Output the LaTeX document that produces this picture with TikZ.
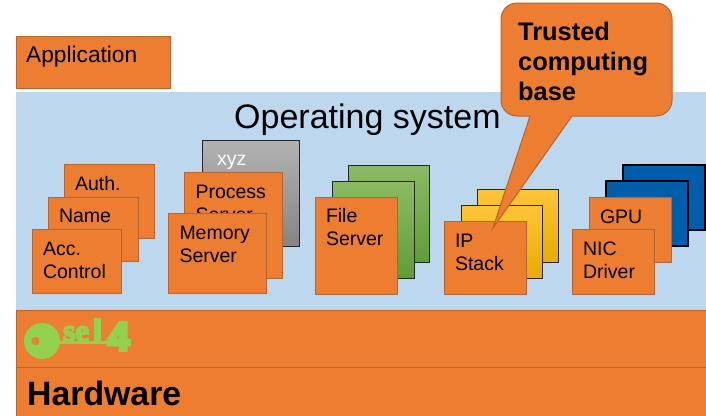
\documentclass[tikz,border=0pt]{standalone}
\usepackage{fontspec}
\setmainfont{Liberation Sans}
\newfontfamily\logofont[FakeBold=6]{Liberation Serif Bold}
\newfontfamily\stemfont[FakeBold=10]{Liberation Sans Bold}
\definecolor{myorange}{RGB}{237,125,49}
\definecolor{myedge}{RGB}{183,100,45}
\definecolor{myblue}{RGB}{189,215,238}
\definecolor{mydark}{RGB}{0,93,172}
\definecolor{mykey}{RGB}{146,208,80}
\definecolor{mygreen}{RGB}{95,158,54}
\definecolor{mygreentop}{RGB}{138,187,99}
\definecolor{myyellow}{RGB}{229,172,0}
\definecolor{myyellowtop}{RGB}{255,197,58}
\tikzset{
  srvbox/.style={draw=myedge, fill=myorange, line width=1pt, anchor=north west, inner sep=0pt, outer sep=0pt},
  backbox/.style={draw=black!85, line width=0.8pt, anchor=north west, inner sep=0pt, outer sep=0pt},
  srvtext/.style={anchor=north west, align=left, inner sep=0pt, outer sep=0pt,
    font=\fontsize{19.5}{23}\selectfont, execute at begin node={\rule{0pt}{15pt}}},
  greenbox/.style={backbox, top color=mygreentop, bottom color=mygreen},
  yellowbox/.style={backbox, top color=myyellowtop, bottom color=myyellow},
  darkbox/.style={backbox, fill=mydark, draw=black, line width=1.3pt},
  logotext/.style={anchor=base west, inner sep=0pt, text=mykey}
}
\begin{document}
\begin{tikzpicture}[x=1pt,y=-1pt]
\useasboundingbox (0,0) rectangle (706,415);

%A: application
\node[srvbox, minimum width=154pt, minimum height=52pt] (app) at (16,36) {};
\node[anchor=base west, inner sep=0pt, font=\fontsize{22.7}{26}\selectfont] (applabel) at (26,62) {Application};

%OS: background
\node[anchor=north west, fill=myblue, inner sep=0pt, minimum width=690pt, minimum height=218pt] (os) at (16,92) {};
\node[anchor=base west, inner sep=0pt, font=\fontsize{34}{40}\selectfont] (oslabel) at (234,128) {Operating system};

%S: first stack
\node[srvbox, minimum width=90pt, minimum height=74pt] (auth) at (64,164) {};
\node[srvtext] (authlabel) at ([shift={(11pt,-11pt)}]auth.north west) {Auth.};
\node[srvbox, minimum width=90pt, minimum height=64pt] (name) at (48,197) {};
\node[srvtext] (namelabel) at ([shift={(11pt,-10pt)}]name.north west) {Name};
\node[srvbox, minimum width=89.5pt, minimum height=64.5pt] (acc) at (32,229) {};
\node[srvtext] (acclabel) at ([shift={(11pt,-13pt)}]acc.north west) {Acc.\\Control};

%S: second stack
\node[backbox, top color=black!30, bottom color=black!48, minimum width=97.5pt, minimum height=106pt] (xyz) at (202,140) {};
\node[srvtext, text=white] (xyzlabel) at ([shift={(15pt,-10pt)}]xyz.north west) {xyz};
\node[srvbox, minimum width=98pt, minimum height=105.5pt] (proc) at (184.5,172.5) {};
\node[srvtext] (proclabel) at ([shift={(11pt,-13pt)}]proc.north west) {Process\\Server};
\node[srvbox, minimum width=97.5pt, minimum height=80.5pt] (mem) at (168.5,213) {};
\node[srvtext] (memlabel) at ([shift={(11pt,-13pt)}]mem.north west) {Memory\\Server};

%S: file server
\node[greenbox, minimum width=81pt, minimum height=97pt] (fback) at (348,165) {};
\node[greenbox, minimum width=82pt, minimum height=97pt] (fmid) at (332,181) {};
\node[srvbox, minimum width=82pt, minimum height=97pt] (file) at (315,197) {};
\node[srvtext] (filelabel) at ([shift={(11pt,-11pt)}]file.north west) {File\\Server};

%S: ip stack
\node[yellowbox, minimum width=81pt, minimum height=73pt] (ipback) at (477,189) {};
\node[yellowbox, minimum width=81pt, minimum height=73pt] (ipmid) at (461,205) {};
\node[srvbox, minimum width=82pt, minimum height=73pt] (ip) at (444,221) {};
\node[srvtext] (iplabel) at ([shift={(11pt,-13pt)}]ip.north west) {IP\\Stack};

%S: drivers
\node[darkbox, minimum width=82pt, minimum height=65pt] (dback) at (623,165) {};
\node[darkbox, minimum width=82pt, minimum height=65pt] (dmid) at (606,181) {};
\node[srvbox, minimum width=82pt, minimum height=65pt] (gpu) at (589,197) {};
\node[srvtext] (gpulabel) at ([shift={(11pt,-11pt)}]gpu.north west) {GPU};
\node[srvbox, minimum width=82pt, minimum height=65pt] (nic) at (572,229) {};
\node[srvtext] (niclabel) at ([shift={(11pt,-13pt)}]nic.north west) {NIC\\Driver};

%K: kernel and hardware
\node[srvbox, minimum width=692pt, minimum height=57pt] (kernel) at (16,310) {};
\node[srvbox, minimum width=692pt, minimum height=50pt] (hw) at (16,367) {};
\node[anchor=base west, inner sep=0pt, font=\bfseries\fontsize{33.8}{40}\selectfont] (hwlabel) at (27,405) {Hardware};

% key logo
\fill[mykey] (42,341) circle (18pt);
\fill[myorange] (35.5,341) circle (4pt);
\fill[mykey] (58,340.5) rectangle (129,344);
\node[logotext, font=\logofont\fontsize{31}{31}\selectfont] (logose) at (63,341) {se};
\node[logotext, font=\stemfont\fontsize{30}{30}\selectfont] (logol) at (93,341) {l};
\node[logotext, font=\stemfont\fontsize{39}{39}\selectfont] (logofour) at (107.5,350) {4};

%T: trusted computing base
\filldraw[draw=myedge, fill=myorange, line width=1pt]
  (530,116) [rounded corners=16pt] -- (501,116) -- (501,3) -- (672,3) -- (672,116) [sharp corners] -- (572,116) -- (493,228) -- cycle;
\node[anchor=north west, align=left, inner sep=0pt, font=\bfseries\fontsize{25.4}{30}\selectfont,
  execute at begin node={\rule{0pt}{20pt}}] (tcb) at (518,22) {Trusted\\computing\\base};
\end{tikzpicture}
\end{document}
